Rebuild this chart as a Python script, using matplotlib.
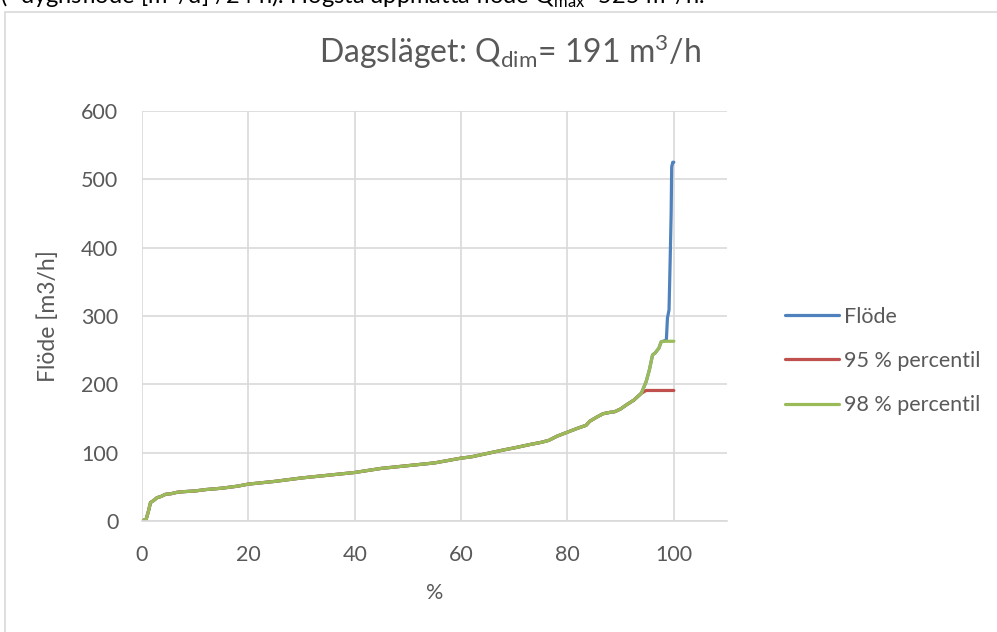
import numpy as np
import matplotlib
matplotlib.use("Agg")
import matplotlib.pyplot as plt
from matplotlib.patches import Rectangle

plt.rcParams['font.family'] = ['Lato', 'DejaVu Sans']
plt.rcParams['mathtext.fontset'] = 'custom'
plt.rcParams['mathtext.rm'] = 'Lato'
plt.rcParams['mathtext.it'] = 'Lato:italic'

# varaktighetskurva: andel av tiden [%] mot flöde [m3/h]
pct = [0, 0.3, 0.8, 1.2, 1.6, 2.2, 2.8, 3.6, 4.4, 5.5, 6.6, 8, 10, 12, 15, 18,
       20, 25, 30, 35, 40, 45, 50, 55, 60, 62, 65, 68, 70, 73, 75, 76.5, 78,
       80, 82, 83.5, 84.2, 85.5, 86.7, 88, 88.9, 90, 91.1, 92.5, 93.9, 94.8,
       95.4, 96.0, 96.5, 97.2, 97.6, 98.0, 98.6, 98.8, 99.1, 99.3, 99.5, 99.6,
       99.8, 100]
flow = [0, 1, 3, 14, 27, 30, 34, 36, 39, 40, 42, 43, 44, 46, 48, 51,
        54, 58, 63, 67, 71, 77, 81, 85, 92, 94, 99, 104, 107, 112, 115, 118, 124,
        130, 136, 140, 146, 152, 157, 159, 160, 164, 170, 177, 187, 204,
        221, 243, 246, 253, 262, 263, 265, 297, 309, 377, 450, 518,
        525, 525]

p95 = 191   # Qdim
p98 = 263

labels = ["Flöde", "95 % percentil", "98 % percentil"]
colors = ["#4F81BD", "#C0504D", "#9BBB59"]
txt = "#595959"
grid = "#D9D9D9"

pct = np.array(pct)
flow = np.array(flow)

fig = plt.figure(figsize=(9.97, 6.32), dpi=100)
fig.patches.append(Rectangle((4.5/997, -0.1), 1.2, 1.1 - 11.5/632,
                             transform=fig.transFigure, fill=False,
                             edgecolor=grid, linewidth=1.2))

ax = fig.add_axes([142/997, 1 - 521/632, (727 - 142)/997, (521 - 111)/632])
l1, = ax.plot(pct, flow, color=colors[0], lw=2.3, solid_capstyle='round')
l2, = ax.plot(pct, np.minimum(flow, p95), color=colors[1], lw=2.3, solid_capstyle='round')
l3, = ax.plot(pct, np.minimum(flow, p98), color=colors[2], lw=2.3, solid_capstyle='round')

ax.set_xlim(0, 110)
ax.set_ylim(0, 600)
ax.set_xticks(np.arange(0, 101, 20))
ax.set_yticks(np.arange(0, 601, 100))
ax.grid(True, color=grid, lw=1.2)
ax.set_axisbelow(True)
for s in ['top', 'right', 'left']:
    ax.spines[s].set_visible(False)
ax.spines['bottom'].set_color(grid)
ax.spines['bottom'].set_linewidth(1.2)
ax.tick_params(length=0, labelsize=15.5, colors=txt, pad=17)

ax.set_xlabel("%", fontsize=15.5, color=txt, labelpad=13)
ax.set_ylabel("Flöde [m3/h]", fontsize=16.5, color=txt, labelpad=16)

fig.text(510/997, 1 - 63/632, r"Dagsläget: Q$_{\mathrm{dim}}$= 191 m$^{3}$/h",
         ha='center', va='baseline', fontsize=23, color=txt)

# rad från dokumentet ovanför diagrammet
fig.text(0.0, 1 - 4/632,
         r"(=dygnsflöde [m$^{3}$/d] /24 h). Högsta uppmätta flöde Q$_{\mathrm{max}}$=525 m$^{3}$/h.",
         ha='left', va='baseline', fontsize=17, color="#000000")

fig.legend([l1, l2, l3], labels, loc='center left',
           bbox_to_anchor=(785/997, 1 - 361/632), frameon=False,
           fontsize=15.5, labelcolor=txt, handlelength=2.5, handletextpad=0.25,
           labelspacing=1.12, borderaxespad=0, borderpad=0)

fig.savefig("out.png", dpi=100)
